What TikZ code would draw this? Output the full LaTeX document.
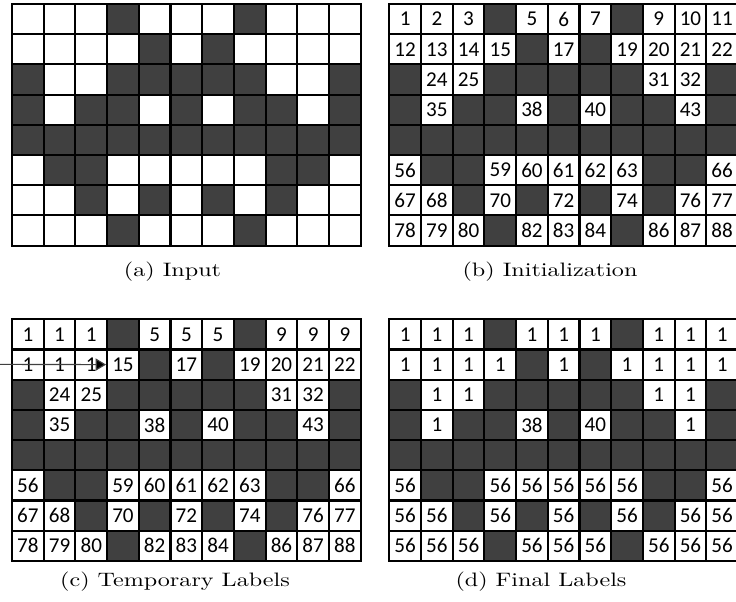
\documentclass[tikz,border=0pt]{standalone}
\usepackage{graphicx}
\usepackage{fontspec}
\newfontfamily\cellfont{Carlito}
\usetikzlibrary{arrows.meta}
\definecolor{CellDark}{HTML}{404040}
\newcommand{\wide}[1]{\scalebox{1.24}[1]{#1}}
% binary input image, row by row (1 = dark pixel)
\def\pixels{{0,0,0,1,0,0,0,1,0,0,0,%
  0,0,0,0,1,0,1,0,0,0,0,%
  1,0,0,1,1,1,1,1,0,0,1,%
  1,0,1,1,0,1,0,1,1,0,1,%
  1,1,1,1,1,1,1,1,1,1,1,%
  0,1,1,0,0,0,0,0,1,1,0,%
  0,0,1,0,1,0,1,0,1,0,0,%
  0,0,0,1,0,0,0,1,0,0,0}}
\tikzset{
    cell/.style={draw, line width=1.1pt, fill=white, minimum width=17.12pt, minimum height=16.31pt, inner sep=0pt, font=\fontsize{11.4}{13}\selectfont\cellfont},
    darkcell/.style={cell, fill=CellDark},
    caption/.style={anchor=base, inner sep=0pt, font=\fontsize{10.5}{12}\selectfont}
}
\begin{document}
\begin{tikzpicture}[x=0.54pt, y=-0.54pt]
    \useasboundingbox (0,0) rectangle (736,602);
    \foreach \g/\gx/\gy [count=\k from 0] in {a/12/4, b/389.3/4, c/12/319.3, d/389.3/319.3}{
        \foreach \r in {0,...,7}{
            \foreach \c in {0,...,10}{
                \pgfmathtruncatemacro\idx{11*\r+\c}
                \pgfmathtruncatemacro\dk{\pixels[\idx]}
                \ifcase\k \def\celllab{}
                \or \pgfmathtruncatemacro\celllab{\idx+1}
                \or \pgfmathtruncatemacro\celllab{\r==0 ? 4*int(\c/4)+1 : ((\r==1 && \c<3) ? 1 : \idx+1)}
                \or \pgfmathtruncatemacro\celllab{\r>4 ? 56 : ((\idx==37 || \idx==39) ? \idx+1 : 1)}
                \fi
                \ifnum\dk=1
                    \node[darkcell] (\g-\r-\c) at ({\gx+(\c+0.5)*31.7}, {\gy+(\r+0.5)*30.2}) {};
                \else
                    \node[cell] (\g-\r-\c) at ({\gx+(\c+0.5)*31.7}, {\gy+(\r+0.5)*30.2}) {\celllab};
                \fi
            }
        }
    }
    \node[caption] (capa) at (172.5, 276.7) {\wide{(a) Input}};
    \node[caption] (capb) at (550, 276.7) {\wide{(b) Initialization}};
    \node[caption] (capc) at (175, 586.7) {\wide{(c) Temporary Labels}};
    \node[caption] (capd) at (541, 586.7) {\wide{(d) Final Labels}};
    % label 1 propagated along the scan
    \coordinate (scanstart) at (0, 364.4);
    \draw[line width=0.6pt, draw=black!75, -{Triangle[length=5.6pt, width=6.5pt, fill=black]}] (scanstart) -- (c-1-3.west);
\end{tikzpicture}
\end{document}
